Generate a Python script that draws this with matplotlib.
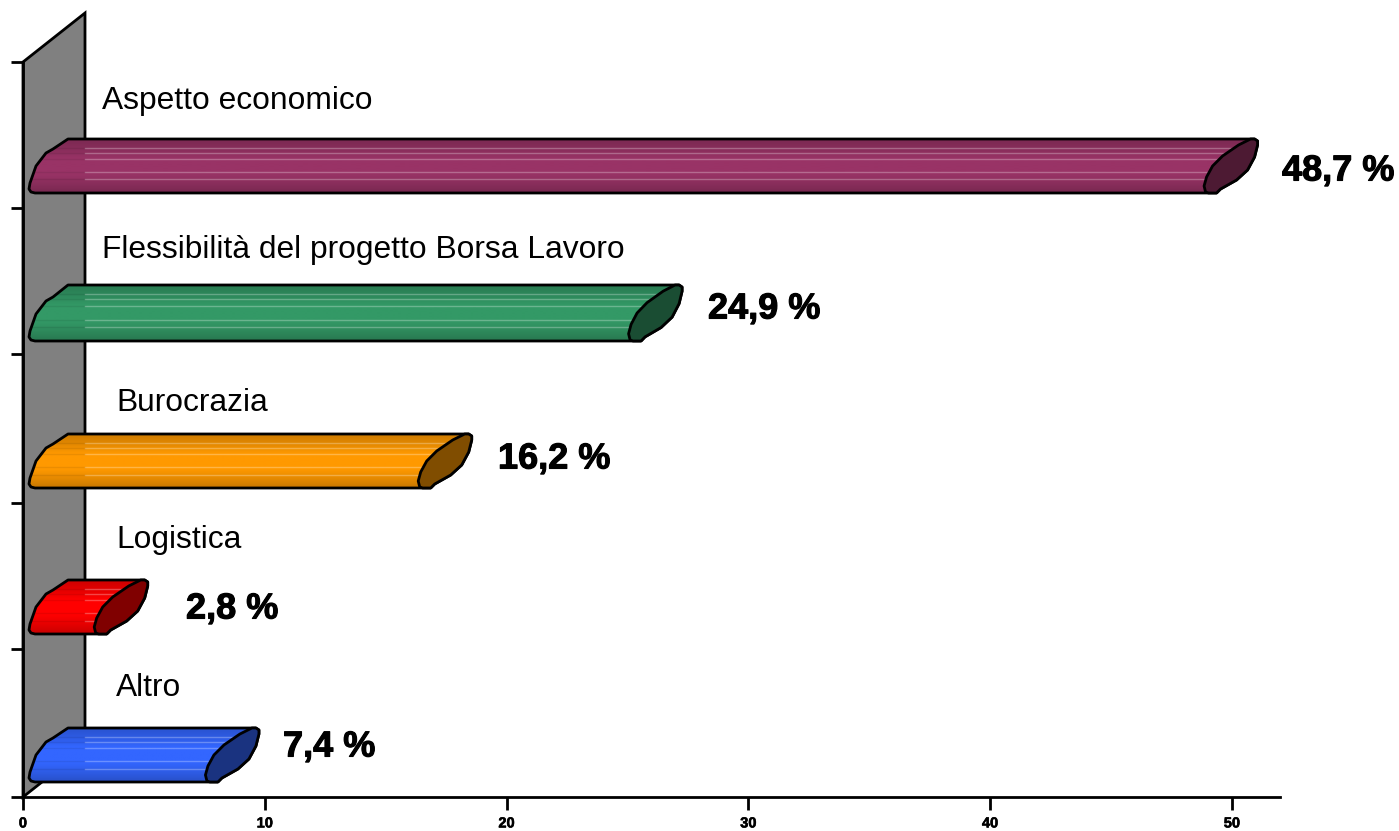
import numpy as np
import matplotlib
matplotlib.use("Agg")
import matplotlib.pyplot as plt
import matplotlib.patheffects as pe
from matplotlib.path import Path
from matplotlib.patches import PathPatch, Polygon
from matplotlib.colors import to_rgb

plt.rcParams['font.family'] = ['Liberation Sans', 'DejaVu Sans']

# dati, dal basso verso l'alto
categories = ["Altro", "Logistica", "Burocrazia", "Flessibilità del progetto Borsa Lavoro", "Aspetto economico"]
values = [7.4, 2.8, 16.2, 24.9, 48.7]
value_labels = ["7,4 %", "2,8 %", "16,2 %", "24,9 %", "48,7 %"]
bar_colors = ["#3366ff", "#ff0000", "#ff9900", "#339966", "#993366"]
x_ticks = [0, 10, 20, 30, 40, 50]

# layout in pixel
W, H = 1399, 831
X0, Y0 = 23, 797
PX_X = 24.18   # pixel per unita x
PX_Y = 147.0   # pixel per categoria
WALL_DX, WALL_DY = 62, 49
y_tick_px = [797, 649, 503, 354, 208, 62]
bar_shift = [0, 1, 0, 2, 1]    # piccoli scarti verso l'alto
bar_height = [54, 54, 54, 56, 54]
label_x = [116, 116, 116, 102, 102]
label_y = [688, 540, 403, 250, 101]
value_x = [283, 186, 498, 708, 1282]
value_y = [747, 609, 459, 309, 171]

# forma delle due estremita, offset in pixel (x a destra, y in giu dal bordo alto)
left_end = [(12, 0), (8, -1), (6, -4), (7, -10), (13, -27), (23, -40), (30, -44), (45, -54)]
cap_end = [(5, 53), (3.5, 47), (6, 38), (12, 27), (22, 17), (38, 6), (50, 0), (54, 0), (57, 2),
           (57, 6), (54, 18), (47, 31), (36, 41), (20, 50), (16, 54), (8, 54)]
shade = [0.82, 0.85, 0.88, 0.92, 0.96, 1.0, 1.0, 1.0, 1.0, 1.0, 0.97, 0.93, 0.89, 0.85, 0.80]
streaks = [0.16, 0.25, 0.375, 0.62, 0.75]

fig = plt.figure(figsize=(W / 100, H / 100), dpi=100, facecolor="white")
ax = fig.add_axes([X0 / W, 1 - Y0 / H, (1280 - X0) / W, 5 * PX_Y / H])
ax.patch.set_visible(False)


def dx(p):
    return p / PX_X


def dy(p):
    return p / PX_Y


# parete grigia in prospettiva
wall = Polygon([(0, 0), (0, 5), (dx(WALL_DX), 5 + dy(WALL_DY)), (dx(WALL_DX), dy(WALL_DY))],
               closed=True, facecolor="#808080", edgecolor="black", linewidth=2,
               clip_on=False, zorder=1, joinstyle="miter")
ax.add_patch(wall)


def bar_paths(value, i):
    h = bar_height[i]
    top = i + dy(69 + bar_shift[i])
    bottom = top - dy(h)
    verts = [(dx(ox), bottom - dy(oy)) for ox, oy in left_end]
    verts[-1] = (dx(left_end[-1][0]), top)
    # scala il tappo sull'altezza della barra
    verts += [(value + dx(ox), top - dy(oy * h / 54)) for ox, oy in cap_end[6:]]
    verts.append(verts[0])
    outline = Path(verts, [Path.MOVETO] + [Path.LINETO] * (len(verts) - 2) + [Path.CLOSEPOLY])
    cap = [(value + dx(ox), top - dy(oy * h / 54)) for ox, oy in cap_end]
    cap.append(cap[0])
    cap_path = Path(cap, [Path.MOVETO] + [Path.LINETO] * (len(cap) - 2) + [Path.CLOSEPOLY])
    return outline, cap_path, top, bottom


for i, (val, col) in enumerate(zip(values, bar_colors)):
    outline, cap_path, top, bottom = bar_paths(val, i)
    rgb = np.array(to_rgb(col))

    # sfumatura verticale a bande
    grad = np.clip(np.array(shade)[:, None, None] * rgb[None, None, :], 0, 1)
    body = PathPatch(outline, facecolor="none", edgecolor="none", zorder=2)
    ax.add_patch(body)
    im = ax.imshow(grad, extent=(0, val + dx(60), bottom, top), aspect="auto", zorder=2,
                   interpolation="bilinear", origin="upper")
    im.set_clip_path(body)

    # righe del riflesso: scure sulla parete, chiare fuori
    for frac in streaks:
        yl = top - frac * (top - bottom)
        l1, = ax.plot([0, dx(WALL_DX)], [yl, yl], color="black", alpha=0.08, lw=1, zorder=3)
        l2, = ax.plot([dx(WALL_DX), val + dx(60)], [yl, yl], color="white", alpha=0.28, lw=1, zorder=3)
        l1.set_clip_path(body)
        l2.set_clip_path(body)

    ax.add_patch(PathPatch(outline, facecolor="none", edgecolor="black", lw=2, zorder=4, joinstyle="round"))
    ax.add_patch(PathPatch(cap_path, facecolor=rgb * 0.5, edgecolor="black", lw=2, zorder=5, joinstyle="round"))

ax.set_xlim(0, (1280 - X0) / PX_X)
ax.set_ylim(0, 5)

# assi
for side in ["top", "right"]:
    ax.spines[side].set_visible(False)
for side in ["left", "bottom"]:
    ax.spines[side].set_linewidth(2)
    ax.spines[side].set_zorder(1.5)
ax.set_xticks(x_ticks)
ax.set_yticks([(Y0 - p) / PX_Y for p in y_tick_px])
ax.set_yticklabels([])
ax.tick_params(axis="both", width=2, length=9, direction="out", pad=5)
ax.tick_params(axis="x", labelsize=10.5)
for t in ax.get_xticklabels():
    t.set_fontweight("bold")
    t.set_horizontalalignment("center")
    t.set_path_effects([pe.withStroke(linewidth=0.4, foreground="black")])

for name, xp, yp in zip(categories, label_x, label_y):
    fig.text(xp / W, 1 - yp / H, name, fontsize=22.9, ha="left", va="center", color="black")

for txt, xp, yp in zip(value_labels, value_x, value_y):
    fig.text(xp / W, 1 - yp / H, txt, fontsize=26, fontweight="bold", ha="left", va="center", color="black",
             path_effects=[pe.withStroke(linewidth=0.8, foreground="black")])

fig.savefig("out.png", dpi=100, facecolor="white")
